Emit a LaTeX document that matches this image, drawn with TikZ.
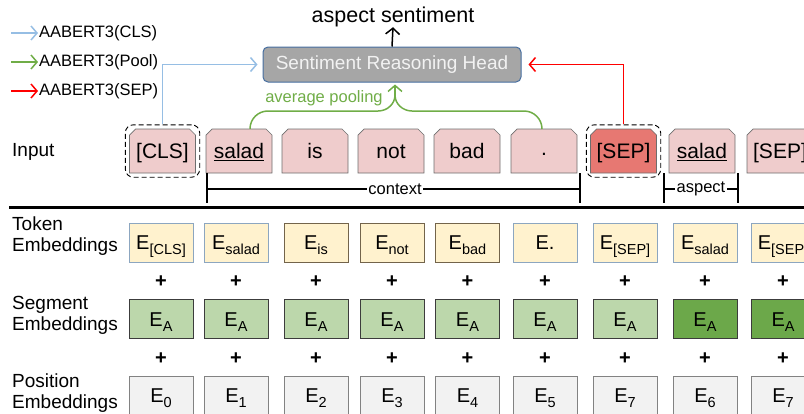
\documentclass[tikz,border=0pt]{standalone}
\usepackage{fontspec}
\setmainfont{Liberation Sans}
\usetikzlibrary{calc,fit,arrows.meta}
\definecolor{inpink}{RGB}{239,204,204}
\definecolor{sepred}{RGB}{231,120,114}
\definecolor{inborder}{RGB}{110,110,110}
\definecolor{tokfill}{RGB}{255,242,206}
\definecolor{tokblue}{RGB}{140,166,192}
\definecolor{tokbrown}{RGB}{115,100,75}
\definecolor{seglight}{RGB}{188,215,171}
\definecolor{segdark}{RGB}{108,168,74}
\definecolor{segborder}{RGB}{60,60,60}
\definecolor{posfill}{RGB}{242,242,242}
\definecolor{posborder}{RGB}{130,130,130}
\definecolor{headfill}{RGB}{166,166,166}
\definecolor{headborder}{RGB}{70,110,160}
\definecolor{clsblue}{RGB}{150,190,228}
\definecolor{poolgreen}{RGB}{112,173,71}
\definecolor{sepline}{RGB}{255,0,0}
\newcommand\fsz[1]{\fontsize{#1}{#1}\selectfont}
\newcommand\Esb[1]{{\fsz{20}E}\raisebox{-5pt}{\fsz{14.5}#1}}
\newcommand\inbox[4]{%
  \filldraw[draw=inborder,fill=#3,line width=0.7pt]
    (#2-33,173) -- (#2-33,135) -- (#2-27,129) -- (#2+27,129) -- (#2+33,135) -- (#2+33,173) -- cycle;
  \node[tok] (#1) at (#2,151) {#4};}
\tikzset{
  tok/.style={minimum width=66pt,minimum height=44pt,inner sep=0pt,font=\fsz{21},text height=15pt,text depth=0pt},
  embbox/.style={minimum width=64pt,minimum height=39pt,inner sep=0pt,line width=0.7pt,text height=14.3pt,text depth=0pt},
  tokemb/.style={embbox,fill=tokfill,draw=tokblue},
  tokembb/.style={embbox,fill=tokfill,draw=tokbrown},
  segemb/.style={embbox,fill=seglight,draw=segborder},
  segembd/.style={embbox,fill=segdark,draw=segborder},
  posemb/.style={embbox,fill=posfill,draw=posborder},
  rowlab/.style={anchor=west,align=left,font=\fsz{19},inner sep=0pt},
  plus/.style={font=\fsz{20}\bfseries,inner sep=0pt},
  dashbox/.style={draw,dashed,dash pattern=on 5pt off 3pt,rounded corners=8pt,inner sep=4pt,line width=0.9pt},
  barb/.style={-{Straight Barb[length=6pt,width=14pt,line width=1.5pt]}},
  legtext/.style={anchor=west,font=\fsz{16.5},inner sep=0pt},
}
\begin{document}
\begin{tikzpicture}[x=1pt,y=-1pt]
\useasboundingbox (0,0) rectangle (804,413);
% legend
\coordinate (l1a) at (11,33); \coordinate (l1b) at (38,33);
\coordinate (l2a) at (11,62); \coordinate (l2b) at (38,62);
\coordinate (l3a) at (11,91); \coordinate (l3b) at (38,91);
\draw[barb,clsblue,line width=1.6pt] (l1a) -- (l1b);
\draw[barb,poolgreen,line width=1.6pt] (l2a) -- (l2b);
\draw[barb,sepline,line width=1.6pt] (l3a) -- (l3b);
\node[legtext] (lg1) at (39,33) {AABERT3(CLS)};
\node[legtext] (lg2) at (39,62) {AABERT3(Pool)};
\node[legtext] (lg3) at (39,91) {AABERT3(SEP)};
% head
\node[draw=headborder,fill=headfill,rounded corners=5pt,line width=1pt,minimum width=258pt,minimum height=35pt,
      font=\fsz{19},text=white!95!black,inner sep=0pt] (head) at (392,64.5) {Sentiment Reasoning Head};
\node[font=\fsz{21.5},inner sep=0pt] (out) at (393,17) {aspect sentiment};
\draw[barb,line width=1.5pt] (head.north) -- (out.south);
% input row
\node[rowlab] (inlab) at (12,152) {Input};
\inbox{cls}{162.5}{inpink}{[CLS]}
\inbox{salad}{239}{inpink}{\underline{salad}}
\inbox{is}{315}{inpink}{is}
\inbox{not}{391}{inpink}{not}
\inbox{bad}{467}{inpink}{bad}
\filldraw[draw=inborder,fill=inpink,line width=0.7pt]
    (511,173) -- (511,135) -- (517,129) -- (571,129) -- (577,135) -- (577,173) -- cycle;
\node[inner sep=0pt,font=\fsz{21}] (dot) at (544,154) {.};
\inbox{sep}{623.5}{sepred}{[SEP]}
\inbox{asal}{702}{inpink}{\underline{salad}}
\inbox{sepb}{780}{inpink}{[SEP]}
\node[dashbox,fit=(cls)] (clsd) {};
\node[dashbox,fit=(sep)] (sepd) {};
% connectors to head
\draw[barb,clsblue,line width=1.8pt,shorten >=5pt] (clsd.north) |- (head.west);
\draw[barb,sepline,line width=1.8pt,shorten >=7pt] (sepd.north) |- (head.east);
\coordinate (gl) at ($(salad.north)+(11,0)$);
\coordinate (gm) at (395,95);
\draw[poolgreen,line width=1.5pt] (gl) to[out=90,in=180] (268,111) -- (378,111) to[out=0,in=-90] (gm);
\draw[poolgreen,line width=1.5pt] (542,129) to[out=90,in=0] (524,111) -- (412,111) to[out=180,in=-90] (gm);
\draw[barb,poolgreen,line width=1.5pt,shorten >=2pt] (gm) -- (gm |- head.south);
\node[text=poolgreen,font=\fsz{16.5},inner sep=0pt] (avg) at (324,98) {average pooling};
% brackets
\coordinate (c1) at (207,173); \coordinate (c1b) at (207,203);
\coordinate (c2) at (580,173); \coordinate (c2b) at (580,203);
\draw[line width=1.4pt] (c1) -- (c1b);
\draw[line width=1.4pt] (c2) -- (c2b);
\node[fill=white,inner sep=1.5pt,font=\fsz{16.5}] (ctx) at (395,189) {context};
\draw[line width=1.4pt] (207,189) -- (ctx.west);
\draw[line width=1.4pt] (ctx.east) -- (580,189);
\coordinate (a1) at (664,173); \coordinate (a1b) at (664,203);
\coordinate (a2) at (738,173); \coordinate (a2b) at (738,203);
\draw[line width=1.4pt] (a1) -- (a1b);
\draw[line width=1.4pt] (a2) -- (a2b);
\node[fill=white,inner sep=1.5pt,font=\fsz{16.5}] (asp) at (701,189) {aspect};
\draw[line width=1.4pt] (664,189) -- (asp.west);
\draw[line width=1.4pt] (asp.east) -- (738,189);
% thick rule
\draw[line width=3.2pt] (9,207.5) -- (804,207.5);
% row labels
\node[rowlab] (tl) at (12,236.5) {Token\\[2pt]Embeddings};
\node[rowlab] (sl) at (12,315.5) {Segment\\[2pt]Embeddings};
\node[rowlab] (pl) at (12,393.5) {Position\\[2pt]Embeddings};
% embeddings
\foreach \n/\x/\st/\t in {1/161/tokemb/{[CLS]},2/236/tokemb/{salad},3/316/tokembb/{is},4/392/tokembb/{not},
   5/467.5/tokembb/{bad},7/625/tokemb/{[SEP]},8/705/tokemb/{salad},9/783/tokemb/{[SEP]}}{
  \node[\st] (t\n) at (\x,242.5) {\Esb{\t}};
}
\node[tokemb,font=\fsz{20}] (t6) at (545,242.5) {E.};
\foreach \n/\x/\st in {1/161/segemb,2/236/segemb,3/316/segemb,4/392/segemb,5/467.5/segemb,6/545/segemb,
   7/625/segemb,8/705/segembd,9/783/segembd}{
  \node[\st] (s\n) at (\x,319) {\Esb{A}};
}
\foreach \n/\x/\t in {1/161/0,2/236/1,3/316/2,4/392/3,5/467.5/4,6/545/5,7/625/7,8/705/6,9/783/7}{
  \node[posemb] (p\n) at (\x,395.5) {\Esb{\t}};
}
\foreach \n/\x in {1/161,2/236,3/316,4/392,5/467.5,6/545,7/625,8/705,9/783}{
  \node[plus] (pa\n) at (\x,282) {+};
  \node[plus] (pb\n) at (\x,359) {+};
}
\end{tikzpicture}
\end{document}
